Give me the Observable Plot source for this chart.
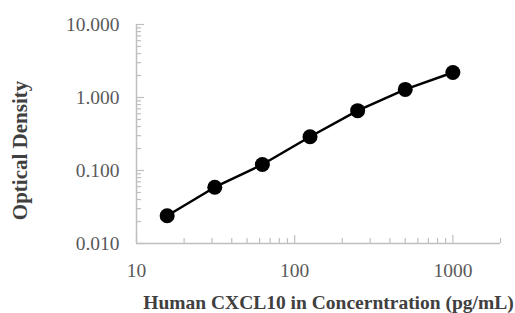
<!DOCTYPE html>
<html>
<head>
<meta charset="utf-8">
<script src="https://cdn.jsdelivr.net/npm/d3@7"></script>
<script src="https://cdn.jsdelivr.net/npm/@observablehq/plot@0.6"></script>
<style>
  html, body { margin: 0; padding: 0; background: #fff; }
  #chart { width: 515px; height: 313px; }
</style>
</head>
<body>
<div id="chart"></div>
<script>
// Standard curve data
const concentration = [15.625, 31.25, 62.5, 125, 250, 500, 1000];
const opticalDensity = [0.024, 0.059, 0.121, 0.29, 0.66, 1.29, 2.2];

// Axis ticks
const xMajorTicks = [10, 100, 1000];
const xMinorTicks = [20, 30, 40, 50, 60, 70, 80, 90, 200, 300, 400, 500, 600, 700, 800, 900, 2000];
const yMajorTicks = [0.01, 0.1, 1, 10];
const yMinorTicks = [0.02, 0.03, 0.04, 0.05, 0.06, 0.07, 0.08, 0.09,
                     0.2, 0.3, 0.4, 0.5, 0.6, 0.7, 0.8, 0.9,
                     2, 3, 4, 5, 6, 7, 8, 9];

const xTitle = "Human CXCL10 in Concerntration (pg/mL)";
const yTitle = "Optical Density";

const data = concentration.map((c, i) => ({x: c, y: opticalDensity[i]}));
const axisColor = "#bfbfbf";
const labelColor = "#595959";
const titleColor = "#404040";

const chart = Plot.plot({
  width: 515,
  height: 313,
  marginLeft: 136,
  marginRight: 15,
  marginTop: 24,
  marginBottom: 70,
  style: {
    fontFamily: '"Liberation Serif", "Times New Roman", serif',
    fontSize: "19.5px",
    color: labelColor,
    background: "#fff"
  },
  x: {type: "log", domain: [10, 2000]},
  y: {type: "log", domain: [0.01, 10]},
  marks: [
    // axis lines
    Plot.ruleY([0.01], {stroke: axisColor, strokeWidth: 1.5}),
    Plot.ruleX([10], {stroke: axisColor, strokeWidth: 1.5}),
    // inward ticks
    Plot.axisX(xMinorTicks, {tickSize: -5, tickFormat: () => "", label: null, stroke: axisColor, strokeWidth: 1.2}),
    Plot.axisX(xMajorTicks, {tickSize: -8, tickFormat: () => "", label: null, stroke: axisColor, strokeWidth: 1.2}),
    Plot.axisY(yMinorTicks, {tickSize: -5, tickFormat: () => "", label: null, stroke: axisColor, strokeWidth: 1.2}),
    Plot.axisY(yMajorTicks, {tickSize: -8, tickFormat: () => "", label: null, stroke: axisColor, strokeWidth: 1.2}),
    // tick labels
    Plot.axisX(xMajorTicks, {tickSize: 0, tickPadding: 20, tickFormat: d3.format("d"), label: null, fill: labelColor}),
    Plot.axisY(yMajorTicks, {tickSize: 0, tickPadding: 17, tickFormat: d3.format(".3f"), label: null, fill: labelColor}),
    // axis titles
    Plot.text([xTitle], {frameAnchor: "bottom", textAnchor: "middle", dx: 10, dy: 65, fontWeight: "bold", fontSize: 19.5, fill: titleColor}),
    Plot.text([yTitle], {frameAnchor: "left", textAnchor: "middle", lineAnchor: "middle", rotate: -90, dx: -116, dy: 16.5, fontWeight: "bold", fontSize: 21, fill: titleColor}),
    // data
    Plot.line(data, {x: "x", y: "y", stroke: "#000", strokeWidth: 2.5}),
    Plot.dot(data, {x: "x", y: "y", r: 7.5, fill: "#000", stroke: "none"})
  ]
});
document.getElementById("chart").appendChild(chart);
</script>
</body>
</html>
